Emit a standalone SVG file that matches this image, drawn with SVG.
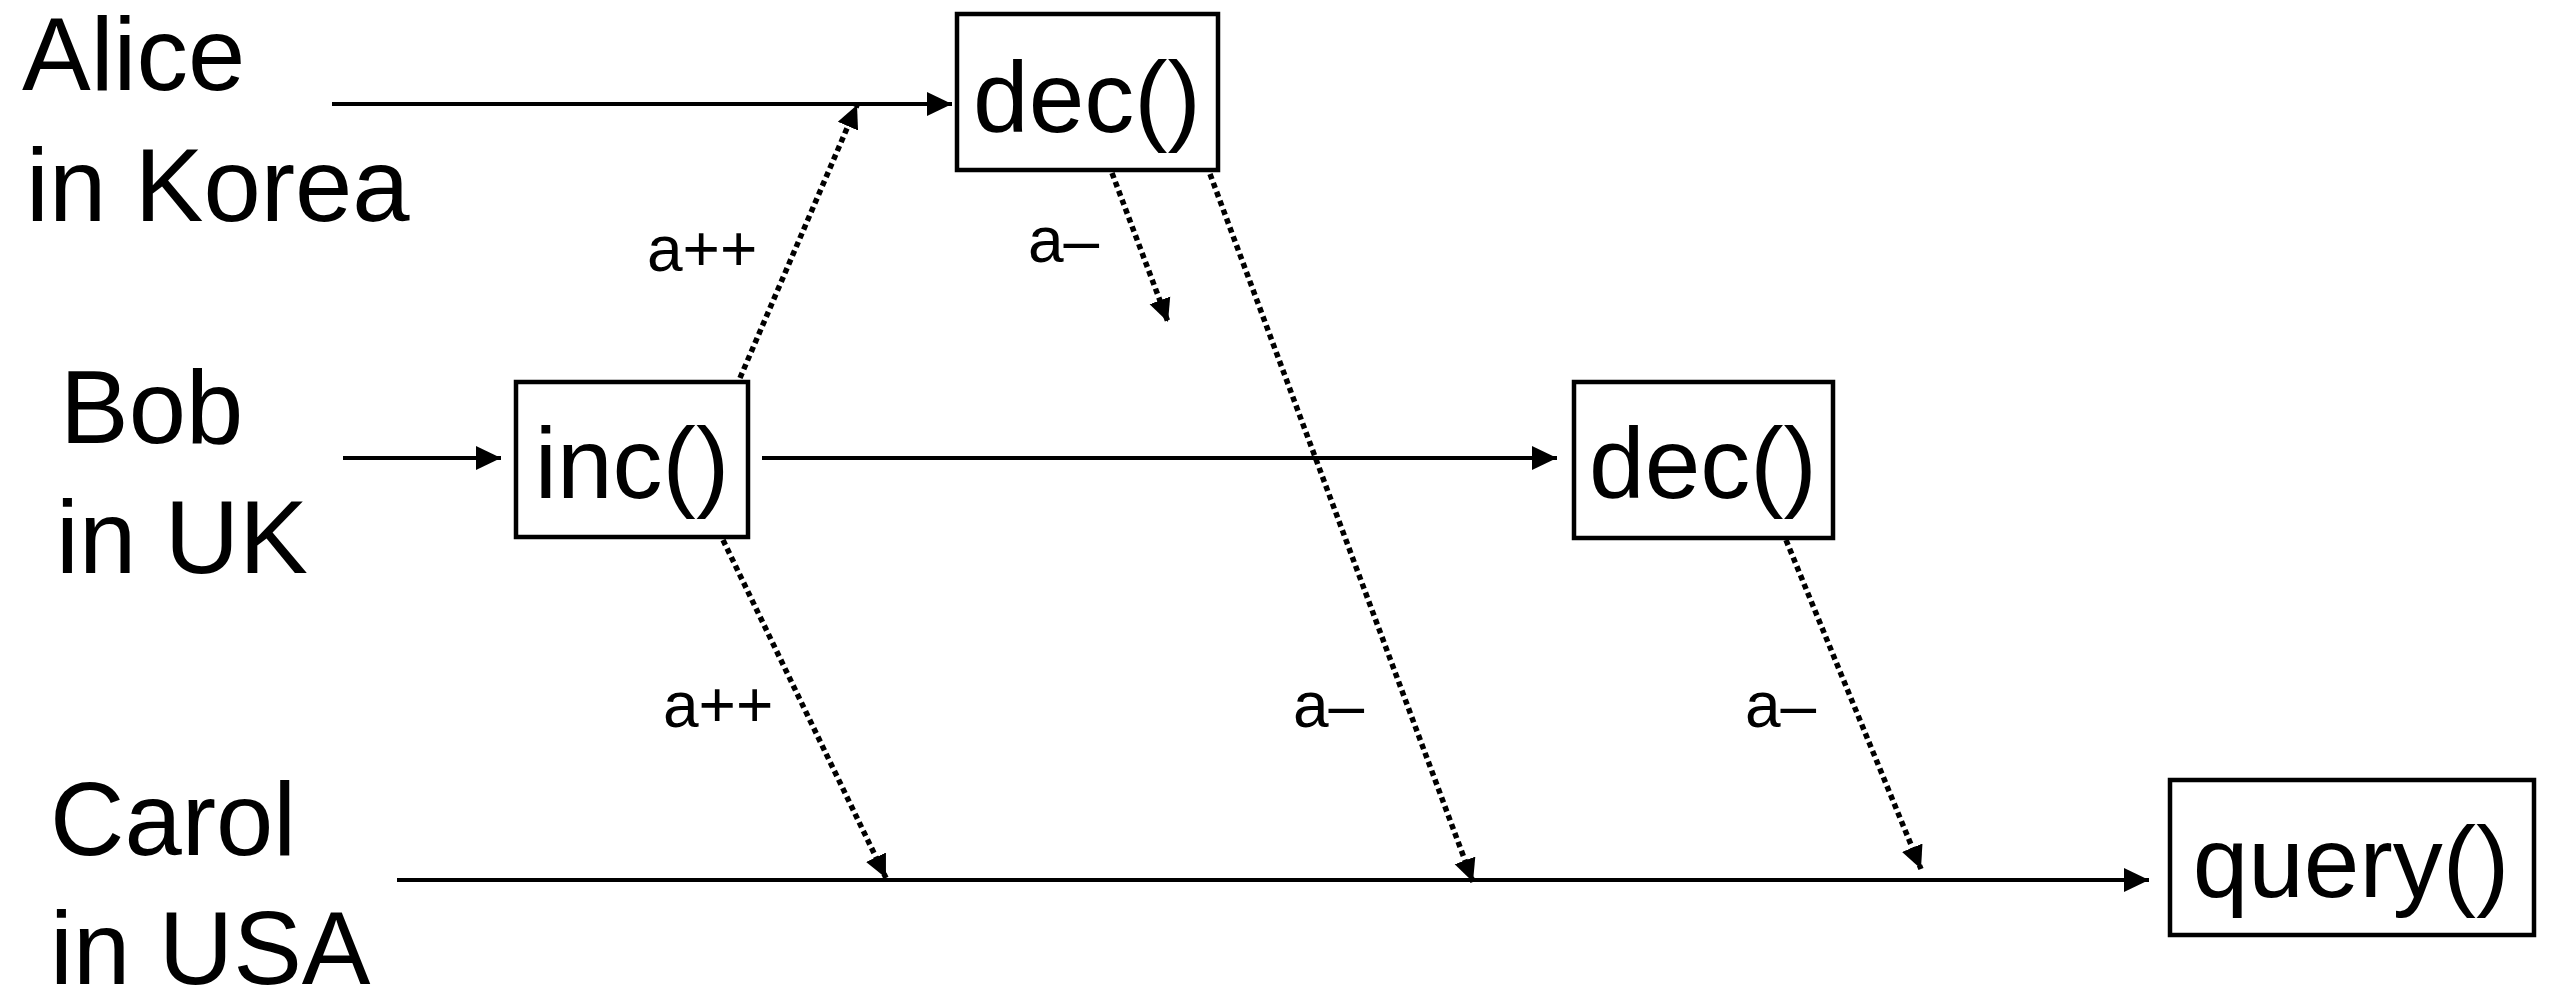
<svg xmlns="http://www.w3.org/2000/svg" width="2555" height="992" viewBox="0 0 2555 992">
  <defs>
    <style>
      .name { font-family: "Liberation Sans", Arial, sans-serif; font-size: 103px; fill: #000; }
      .op { font-family: "Liberation Sans", Arial, sans-serif; font-size: 100px; fill: #000; text-anchor: middle; }
      .lbl { font-family: "Liberation Sans", Arial, sans-serif; font-size: 64px; fill: #000; }
      .box { fill: #fff; stroke: #000; stroke-width: 4.5; }
      .line { fill: none; stroke: #000; stroke-width: 4; }
      .dot { fill: none; stroke: #000; stroke-width: 5.5; stroke-dasharray: 5.5 4; }
    </style>
    <marker id="ah" markerUnits="userSpaceOnUse" markerWidth="26" markerHeight="24" refX="25" refY="12" orient="auto">
      <path d="M0,0 L25,12 L0,24 z" fill="#000"/>
    </marker>
    <marker id="ahd" markerUnits="userSpaceOnUse" markerWidth="24" markerHeight="24" refX="23" refY="12" orient="auto">
      <path d="M0,1 L23,12 L0,23 z" fill="#000"/>
    </marker>
  </defs>

  <g id="labels">
    <text class="name" x="22" y="90">Alice</text>
    <text class="name" x="26" y="221">in Korea</text>
    <text class="name" x="60" y="443">Bob</text>
    <text class="name" x="56" y="573">in UK</text>
    <text class="name" x="50" y="855">Carol</text>
    <text class="name" x="50" y="984">in USA</text>
  </g>

  <g id="connectors">
    <line class="line" x1="332" y1="104" x2="952" y2="104" marker-end="url(#ah)"/>
    <line class="line" x1="343" y1="458" x2="501" y2="458" marker-end="url(#ah)"/>
    <line class="line" x1="762" y1="458" x2="1557" y2="458" marker-end="url(#ah)"/>
    <line class="line" x1="397" y1="880" x2="2149" y2="880" marker-end="url(#ah)"/>

    <line class="dot" x1="740" y1="378" x2="857" y2="105" marker-end="url(#ahd)"/>
    <line class="dot" x1="1112" y1="173" x2="1168" y2="322" marker-end="url(#ahd)"/>
    <line class="dot" x1="1210" y1="174" x2="1473" y2="882" marker-end="url(#ahd)"/>
    <line class="dot" x1="723" y1="540" x2="886" y2="878" marker-end="url(#ahd)"/>
    <line class="dot" x1="1786" y1="540" x2="1921" y2="869" marker-end="url(#ahd)"/>

    <text class="lbl" x="647" y="271">a++</text>
    <text class="lbl" x="1028" y="262">a–</text>
    <text class="lbl" x="663" y="727">a++</text>
    <text class="lbl" x="1293" y="727">a–</text>
    <text class="lbl" x="1745" y="727">a–</text>
  </g>

  <g id="alice-dec">
    <rect class="box" x="957" y="14" width="261" height="156"/>
    <text class="op" x="1087" y="132">dec()</text>
  </g>
  <g id="bob-inc">
    <rect class="box" x="516" y="382" width="232" height="155"/>
    <text class="op" x="632" y="498">inc()</text>
  </g>
  <g id="bob-dec">
    <rect class="box" x="1574" y="382" width="259" height="156"/>
    <text class="op" x="1703" y="498">dec()</text>
  </g>
  <g id="carol-query">
    <rect class="box" x="2170" y="780" width="364" height="155"/>
    <text class="op" x="2351" y="897">query()</text>
  </g>
</svg>
